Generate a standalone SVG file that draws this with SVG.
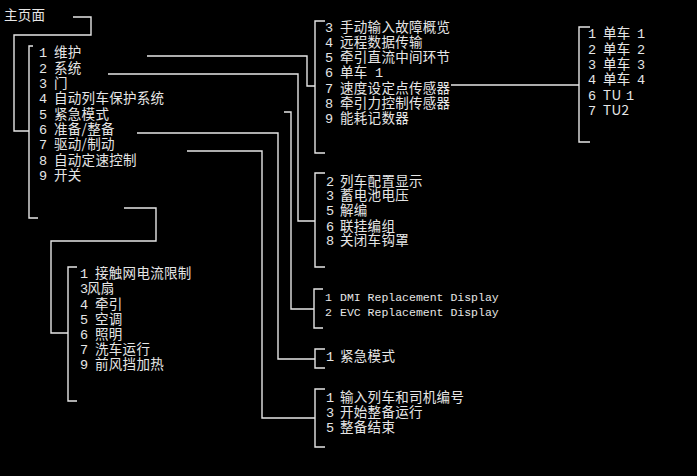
<svg xmlns="http://www.w3.org/2000/svg" width="697" height="476" viewBox="0 0 697 476">
<style>
text{font-family:"Liberation Mono","Noto Sans CJK SC",monospace;font-size:13.5px;fill:#e6e6e6}
.cj{font-family:"Noto Sans CJK SC","Liberation Sans",sans-serif;letter-spacing:0.3px}
.en{font-family:"Liberation Mono",monospace;font-size:11.5px}
.ln{fill:none;stroke:#e6e6e6;stroke-width:1.4}
</style>
<rect width="697" height="476" fill="#000"/>
<g id="connectors" class="ln">
<path class="ln" d="M73,17H91V35H14V131H29"/>
<path class="ln" d="M147,56H307V86H315"/>
<path class="ln" d="M108,74H298V221H315"/>
<path class="ln" d="M284,112H291V309H314"/>
<path class="ln" d="M137,133H278V359H315"/>
<path class="ln" d="M187,151H262V418H315"/>
<path class="ln" d="M451,85H579"/>
<path class="ln" d="M124,208H156V241H51V333H68"/>
</g>
<g id="home"><text class="cj" x="4" y="20">主页面</text></g>
<g id="main-menu">
<path class="ln" d="M33,46H29V218H38"/>
<text y="57"><tspan x="39">1</tspan><tspan class="cj" x="54">维护</tspan></text>
<text y="73"><tspan x="39">2</tspan><tspan class="cj" x="54">系统</tspan></text>
<text y="88"><tspan x="39">3</tspan><tspan class="cj" x="54">门</tspan></text>
<text y="103"><tspan x="39">4</tspan><tspan class="cj" x="54">自动列车保护系统</tspan></text>
<text y="119"><tspan x="39">5</tspan><tspan class="cj" x="54">紧急模式</tspan></text>
<text y="134"><tspan x="39">6</tspan><tspan class="cj" x="54">准备/整备</tspan></text>
<text y="149"><tspan x="39">7</tspan><tspan class="cj" x="54">驱动/制动</tspan></text>
<text y="165"><tspan x="39">8</tspan><tspan class="cj" x="54">自动定速控制</tspan></text>
<text y="180"><tspan x="39">9</tspan><tspan class="cj" x="54">开关</tspan></text>
</g>
<g id="maintenance">
<path class="ln" d="M325,21H315V153H325"/>
<text y="32"><tspan x="325">3</tspan><tspan class="cj" x="340">手动输入故障概览</tspan></text>
<text y="47"><tspan x="325">4</tspan><tspan class="cj" x="340">远程数据传输</tspan></text>
<text y="62"><tspan x="325">5</tspan><tspan class="cj" x="340">牵引直流中间环节</tspan></text>
<text y="77"><tspan x="325">6</tspan><tspan class="cj" x="340">单车</tspan><tspan x="375">1</tspan></text>
<text y="93"><tspan x="325">7</tspan><tspan class="cj" x="340">速度设定点传感器</tspan></text>
<text y="108"><tspan x="325">8</tspan><tspan class="cj" x="340">牵引力控制传感器</tspan></text>
<text y="123"><tspan x="325">9</tspan><tspan class="cj" x="340">能耗记数器</tspan></text>
</g>
<g id="cars">
<path class="ln" d="M590,27H579V142H590"/>
<text y="38"><tspan x="588">1</tspan><tspan class="cj" x="603">单车</tspan><tspan x="637">1</tspan></text>
<text y="54"><tspan x="588">2</tspan><tspan class="cj" x="603">单车</tspan><tspan x="637">2</tspan></text>
<text y="69"><tspan x="588">3</tspan><tspan class="cj" x="603">单车</tspan><tspan x="637">3</tspan></text>
<text y="84"><tspan x="588">4</tspan><tspan class="cj" x="603">单车</tspan><tspan x="637">4</tspan></text>
<text y="100"><tspan x="588">6</tspan><tspan class="cj" x="603">TU</tspan><tspan x="626">1</tspan></text>
<text y="115"><tspan x="588">7</tspan><tspan class="cj" x="603">TU2</tspan></text>
</g>
<g id="system">
<path class="ln" d="M325,173H315V267H325"/>
<text y="186"><tspan x="326">2</tspan><tspan class="cj" x="340">列车配置显示</tspan></text>
<text y="200"><tspan x="326">3</tspan><tspan class="cj" x="340">蓄电池电压</tspan></text>
<text y="215"><tspan x="326">5</tspan><tspan class="cj" x="340">解编</tspan></text>
<text y="231"><tspan x="326">6</tspan><tspan class="cj" x="340">联挂编组</tspan></text>
<text y="245"><tspan x="326">8</tspan><tspan class="cj" x="340">关闭车钩罩</tspan></text>
</g>
<g id="atp">
<path class="ln" d="M323,289H314V328H323"/>
<text class="en" y="301"><tspan x="325">1</tspan><tspan x="340">DMI Replacement Display</tspan></text>
<text class="en" y="316"><tspan x="325">2</tspan><tspan x="340">EVC Replacement Display</tspan></text>
</g>
<g id="emergency">
<path class="ln" d="M325,349H315V368H325"/>
<text y="361"><tspan x="326">1</tspan><tspan class="cj" x="340">紧急模式</tspan></text>
</g>
<g id="preparation">
<path class="ln" d="M325,389H315V447H325"/>
<text y="402"><tspan x="326">1</tspan><tspan class="cj" x="340">输入列车和司机编号</tspan></text>
<text y="417"><tspan x="326">3</tspan><tspan class="cj" x="340">开始整备运行</tspan></text>
<text y="432"><tspan x="326">5</tspan><tspan class="cj" x="340">整备结束</tspan></text>
</g>
<g id="switches">
<path class="ln" d="M77,267H68V401H77"/>
<text y="278"><tspan x="80">1</tspan><tspan class="cj" x="95">接触网电流限制</tspan></text>
<text y="293"><tspan x="80">3</tspan><tspan class="cj" x="87">风扇</tspan></text>
<text y="309"><tspan x="80">4</tspan><tspan class="cj" x="95">牵引</tspan></text>
<text y="324"><tspan x="80">5</tspan><tspan class="cj" x="95">空调</tspan></text>
<text y="339"><tspan x="80">6</tspan><tspan class="cj" x="95">照明</tspan></text>
<text y="354"><tspan x="80">7</tspan><tspan class="cj" x="95">洗车运行</tspan></text>
<text y="369"><tspan x="80">9</tspan><tspan class="cj" x="95">前风挡加热</tspan></text>
</g>
</svg>
